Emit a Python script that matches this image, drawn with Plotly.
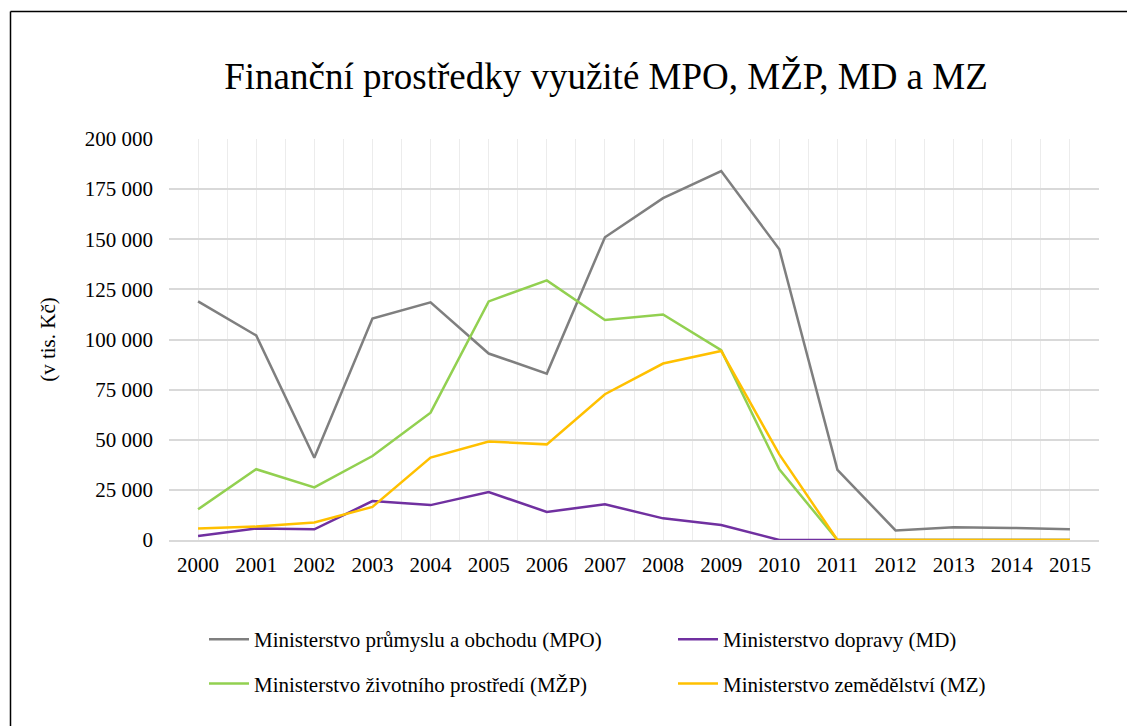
import plotly.graph_objects as go

years = list(range(2000, 2016))
mpo = [119000, 102000, 41000, 110500, 118500, 93000, 83000, 151000, 170500, 184000, 145000, 35000, 4800, 6300, 6000, 5300]
md = [2000, 5700, 5300, 19400, 17400, 23900, 14000, 17800, 10800, 7500, 0, 0, 0, 0, 0, 0]
mzp = [15300, 35300, 26200, 41900, 63500, 119000, 129500, 109700, 112500, 94700, 35300, 0, 0, 0, 0, 0]
mz = [5700, 6700, 8700, 16500, 41100, 49100, 47700, 72700, 88000, 94300, 42700, 0, 0, 0, 0, 0]

names = ["Ministerstvo průmyslu a obchodu (MPO)", "Ministerstvo dopravy (MD)",
         "Ministerstvo životního prostředí (MŽP)", "Ministerstvo zemědělství (MZ)"]
colors = ["#7f7f7f", "#7030a0", "#92d050", "#ffc000"]
legend_ids = ["legend", "legend2", "legend", "legend2"]
series = [mpo, md, mzp, mz]
y_ticks = [0, 25000, 50000, 75000, 100000, 125000, 150000, 175000, 200000]

FONT = "Liberation Serif, Times New Roman, serif"
FS = 21

fig = go.Figure()
for i, (nm, col, vals, lg) in enumerate(zip(names, colors, series, legend_ids)):
    fig.add_trace(go.Scatter(x=years, y=vals, mode="lines", name=nm,
                             legend=lg, legendgroup="g%d" % i,
                             line=dict(color=col, width=2.5)))

# page has an 8px body margin
W, H = 1127, 718
L, T = 161, 131
pw, ph = 930, 401
R = W - L - pw
B = H - T - ph

def px_x(x):
    return (x - L) / pw

def px_y(y):
    return (T + ph - y) / ph

font_main = dict(family=FONT, size=FS, color="black")

legend_common = dict(orientation="v", yanchor="top", xanchor="left",
                     font=font_main, tracegroupgap=14, itemwidth=40,
                     bgcolor="rgba(0,0,0,0)")

fig.update_layout(
    width=W, height=H,
    margin=dict(l=L, r=R, t=T, b=B, autoexpand=False),
    paper_bgcolor="white", plot_bgcolor="white",
    separators=", ",
    font=font_main,
    title=dict(text="Finanční prostředky využité MPO, MŽP, MD a MZ",
               x=598 / W, xanchor="center", y=1 - 68 / H, yanchor="middle",
               font=dict(family=FONT, size=37, color="black")),
    xaxis=dict(range=[1999.5, 2015.5], tickvals=years, ticktext=[str(y) for y in years],
               showgrid=True, gridcolor="#ececec", gridwidth=1,
               minor=dict(tick0=1999.5, dtick=1, showgrid=True, gridcolor="#ececec", gridwidth=1),
               showline=True, linecolor="#d9d9d9", linewidth=2,
               ticks="", zeroline=False, tickfont=font_main, ticklabelstandoff=5),
    yaxis=dict(range=[0, 200000], tickvals=y_ticks, tickformat=",d",
               showgrid=True, gridcolor="#d9d9d9", gridwidth=2,
               zeroline=False, ticks="", showline=False,
               tickfont=font_main, ticklabelstandoff=15,
               title=dict(text="(v tis. Kč)", font=font_main, standoff=23)),
    legend=dict(x=px_x(196), y=px_y(611), **legend_common),
    legend2=dict(x=px_x(665), y=px_y(611), **legend_common),
    shapes=[
        dict(type="line", xref="paper", yref="paper",
             x0=px_x(2.5), x1=px_x(W + 40), y0=px_y(3.5), y1=px_y(3.5),
             line=dict(color="black", width=1.5), layer="below"),
        dict(type="line", xref="paper", yref="paper",
             x0=px_x(2.5), x1=px_x(2.5), y0=px_y(3.5), y1=px_y(H + 40),
             line=dict(color="black", width=1.5), layer="below"),
    ],
)

fig.write_html("out.html")
